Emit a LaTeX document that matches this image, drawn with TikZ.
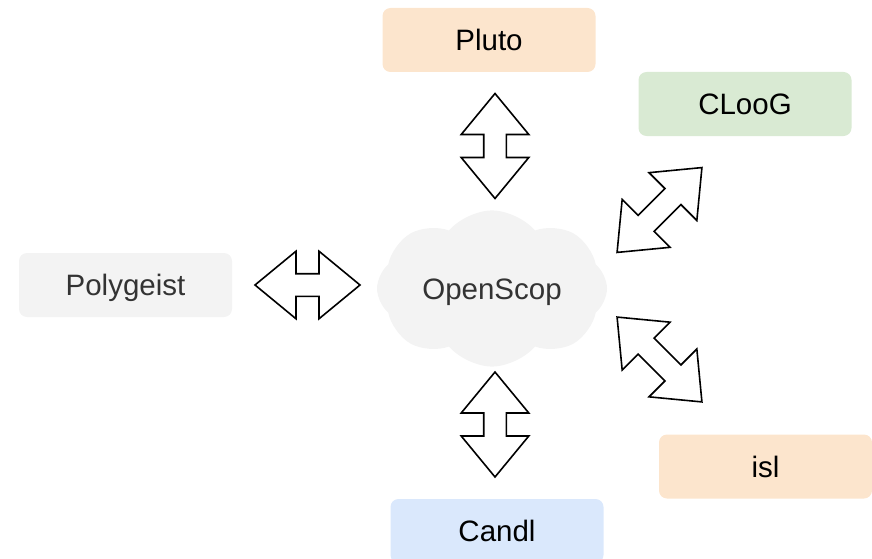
\documentclass[tikz,border=0pt]{standalone}
\usepackage{fontspec}
\setmainfont{Liberation Sans}
\usetikzlibrary{shapes.symbols,shapes.arrows}

\definecolor{peach}{HTML}{FCE5CD}
\definecolor{mint}{HTML}{D9EAD3}
\definecolor{paper}{HTML}{F3F3F3}
\definecolor{sky}{HTML}{DAE8FC}
\definecolor{ink}{HTML}{333333}

\begin{document}
\begin{tikzpicture}[x=1pt,y=-1pt,
    label font/.style={font=\fontsize{29.5}{34}\selectfont,text height=21pt,text depth=0pt},
    tool/.style={label font,rounded corners=8pt,minimum width=213pt,minimum height=64pt},
    link/.style={double arrow,draw,line width=1.6pt,fill=white,double arrow head extend=22.5pt,
      double arrow tip angle=79,minimum height=#1,inner xsep=0pt,inner ysep=10.5pt},
    link/.default=105pt]
    \useasboundingbox (0,0) rectangle (872,559);
    % the exchange format in the middle
    \node[cloud,cloud puffs=8,cloud puff arc=100,aspect=1.6,fill=paper,minimum width=230pt,minimum height=145pt,
      text=ink,label font] (scop) at (492,288.5) {OpenScop};
    % tools around it
    \node[tool,fill=peach] (pluto) at (489,40) {Pluto};
    \node[tool,fill=mint] (cloog) at (745,104) {CLooG};
    \node[tool,fill=paper,text=ink] (polygeist) at (125.5,285) {Polygeist};
    \node[tool,fill=peach] (isl) at (765.5,466.5) {isl};
    \node[tool,fill=sky] (candl) at (497,531) {Candl};
    % two-way links
    \node[link,rotate=90] (toPluto) at (495,146) {};
    \node[link,rotate=90] (toCandl) at (495,424.5) {};
    \node[link] (toPolygeist) at (307.5,285) {};
    \node[link=120pt,rotate=45] (toCloog) at (659.5,210) {};
    \node[link=120pt,rotate=-45] (toIsl) at (659.5,359.5) {};
  \end{tikzpicture}
\end{document}
